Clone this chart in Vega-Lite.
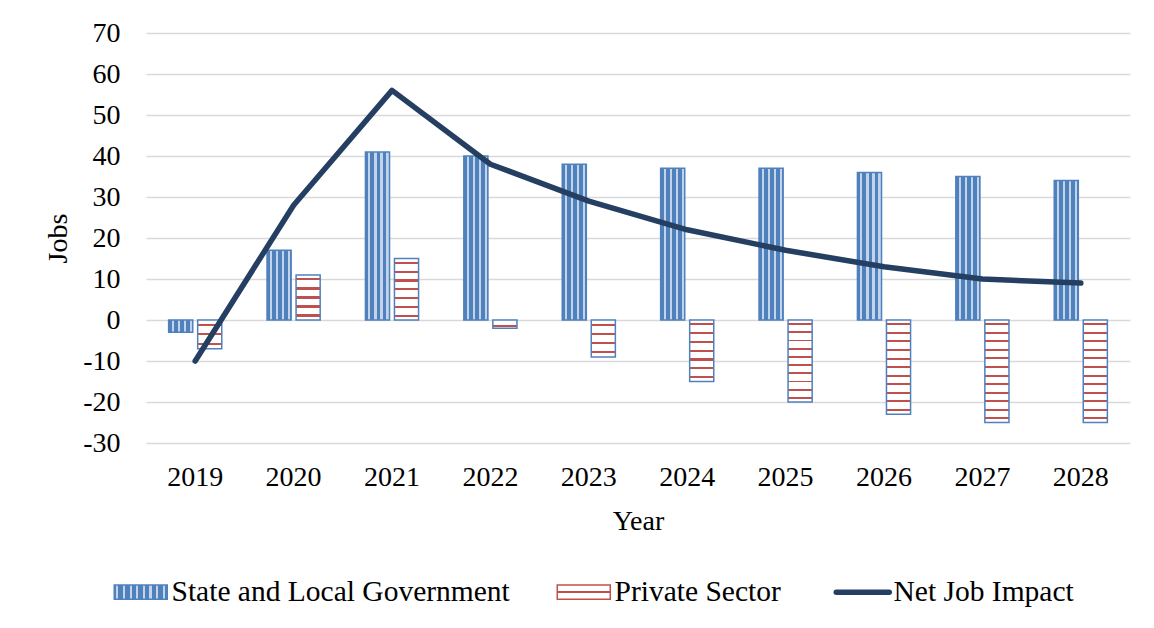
{
  "$schema": "https://vega.github.io/schema/vega-lite/v6.json",
  "width": 984,
  "height": 410,
  "autosize": "none",
  "padding": {"left": 146, "top": 33, "right": 24, "bottom": 185},
  "background": "#ffffff",
  "data": {
    "values": [
      {"Year": "2019", "Series": "State and Local Government", "Jobs": -3},
      {"Year": "2020", "Series": "State and Local Government", "Jobs": 17},
      {"Year": "2021", "Series": "State and Local Government", "Jobs": 41},
      {"Year": "2022", "Series": "State and Local Government", "Jobs": 40},
      {"Year": "2023", "Series": "State and Local Government", "Jobs": 38},
      {"Year": "2024", "Series": "State and Local Government", "Jobs": 37},
      {"Year": "2025", "Series": "State and Local Government", "Jobs": 37},
      {"Year": "2026", "Series": "State and Local Government", "Jobs": 36},
      {"Year": "2027", "Series": "State and Local Government", "Jobs": 35},
      {"Year": "2028", "Series": "State and Local Government", "Jobs": 34},
      {"Year": "2019", "Series": "Private Sector", "Jobs": -7},
      {"Year": "2020", "Series": "Private Sector", "Jobs": 11},
      {"Year": "2021", "Series": "Private Sector", "Jobs": 15},
      {"Year": "2022", "Series": "Private Sector", "Jobs": -2},
      {"Year": "2023", "Series": "Private Sector", "Jobs": -9},
      {"Year": "2024", "Series": "Private Sector", "Jobs": -15},
      {"Year": "2025", "Series": "Private Sector", "Jobs": -20},
      {"Year": "2026", "Series": "Private Sector", "Jobs": -23},
      {"Year": "2027", "Series": "Private Sector", "Jobs": -25},
      {"Year": "2028", "Series": "Private Sector", "Jobs": -25},
      {"Year": "2019", "Series": "Net Job Impact", "Jobs": -10},
      {"Year": "2020", "Series": "Net Job Impact", "Jobs": 28},
      {"Year": "2021", "Series": "Net Job Impact", "Jobs": 56},
      {"Year": "2022", "Series": "Net Job Impact", "Jobs": 38},
      {"Year": "2023", "Series": "Net Job Impact", "Jobs": 29},
      {"Year": "2024", "Series": "Net Job Impact", "Jobs": 22},
      {"Year": "2025", "Series": "Net Job Impact", "Jobs": 17},
      {"Year": "2026", "Series": "Net Job Impact", "Jobs": 13},
      {"Year": "2027", "Series": "Net Job Impact", "Jobs": 10},
      {"Year": "2028", "Series": "Net Job Impact", "Jobs": 9}
    ]
  },
  "encoding": {
    "x": {
      "field": "Year",
      "type": "ordinal",
      "title": "Year",
      "scale": {"paddingInner": 0.46, "paddingOuter": 0.23},
      "axis": {"labelAngle": 0, "labelPadding": 20, "titlePadding": 16, "grid": false}
    },
    "y": {
      "field": "Jobs",
      "type": "quantitative",
      "title": "Jobs",
      "scale": {"domain": [-30, 70], "nice": false, "zero": false},
      "axis": {
        "values": [-30, -20, -10, 0, 10, 20, 30, 40, 50, 60, 70],
        "labelExpr": "'' + datum.value",
        "grid": true,
        "gridColor": "#d9d9d9",
        "gridWidth": 1.3,
        "labelPadding": 26,
        "titlePadding": 10
      }
    }
  },
  "layer": [
    {
      "transform": [{"filter": "datum.Series !== 'Net Job Impact'"}],
      "mark": {"type": "bar", "stroke": "#4f81bd", "strokeWidth": 1.5, "orient": "vertical"},
      "encoding": {
        "xOffset": {
          "field": "Series",
          "type": "nominal",
          "sort": ["State and Local Government", "Private Sector"],
          "scale": {"paddingInner": 0.17, "paddingOuter": 0}
        },
        "fill": {
          "condition": [
            {"test": "datum.Series === 'State and Local Government'", "value": {"gradient": "linear", "x1": 0, "y1": 0, "x2": 1, "y2": 0, "stops": [
              {"offset": 0, "color": "#4f81bd"}, {"offset": 0.12, "color": "#4f81bd"}, {"offset": 0.12, "color": "#c3d4ea"}, {"offset": 0.21, "color": "#c3d4ea"}, {"offset": 0.21, "color": "#4f81bd"},
              {"offset": 0.37, "color": "#4f81bd"}, {"offset": 0.37, "color": "#c3d4ea"}, {"offset": 0.46, "color": "#c3d4ea"}, {"offset": 0.46, "color": "#4f81bd"},
              {"offset": 0.62, "color": "#4f81bd"}, {"offset": 0.62, "color": "#c3d4ea"}, {"offset": 0.71, "color": "#c3d4ea"}, {"offset": 0.71, "color": "#4f81bd"},
              {"offset": 0.87, "color": "#4f81bd"}, {"offset": 0.87, "color": "#c3d4ea"}, {"offset": 0.96, "color": "#c3d4ea"}, {"offset": 0.96, "color": "#4f81bd"}, {"offset": 1, "color": "#4f81bd"}]}},
            {"test": "abs(datum.Jobs) <= 3", "value": {"gradient": "linear", "x1": 0, "y1": 0, "x2": 0, "y2": 1, "stops": [
              {"offset": 0, "color": "#ffffff"}, {"offset": 0.62, "color": "#ffffff"}, {"offset": 0.62, "color": "#c0504d"}, {"offset": 0.86, "color": "#c0504d"}, {"offset": 0.86, "color": "#ffffff"}, {"offset": 1, "color": "#ffffff"}]}},
            {"test": "abs(datum.Jobs) <= 8", "value": {"gradient": "linear", "x1": 0, "y1": 0, "x2": 0, "y2": 1, "stops": [
              {"offset": 0, "color": "#ffffff"},
              {"offset": 0.127, "color": "#ffffff"}, {"offset": 0.127, "color": "#c0504d"}, {"offset": 0.207, "color": "#c0504d"}, {"offset": 0.207, "color": "#ffffff"},
              {"offset": 0.46, "color": "#ffffff"}, {"offset": 0.46, "color": "#c0504d"}, {"offset": 0.54, "color": "#c0504d"}, {"offset": 0.54, "color": "#ffffff"},
              {"offset": 0.793, "color": "#ffffff"}, {"offset": 0.793, "color": "#c0504d"}, {"offset": 0.873, "color": "#c0504d"}, {"offset": 0.873, "color": "#ffffff"},
              {"offset": 1, "color": "#ffffff"}]}},
            {"test": "abs(datum.Jobs) <= 10", "value": {"gradient": "linear", "x1": 0, "y1": 0, "x2": 0, "y2": 1, "stops": [
              {"offset": 0, "color": "#ffffff"},
              {"offset": 0.095, "color": "#ffffff"}, {"offset": 0.095, "color": "#c0504d"}, {"offset": 0.155, "color": "#c0504d"}, {"offset": 0.155, "color": "#ffffff"},
              {"offset": 0.345, "color": "#ffffff"}, {"offset": 0.345, "color": "#c0504d"}, {"offset": 0.405, "color": "#c0504d"}, {"offset": 0.405, "color": "#ffffff"},
              {"offset": 0.595, "color": "#ffffff"}, {"offset": 0.595, "color": "#c0504d"}, {"offset": 0.655, "color": "#c0504d"}, {"offset": 0.655, "color": "#ffffff"},
              {"offset": 0.845, "color": "#ffffff"}, {"offset": 0.845, "color": "#c0504d"}, {"offset": 0.905, "color": "#c0504d"}, {"offset": 0.905, "color": "#ffffff"},
              {"offset": 1, "color": "#ffffff"}]}},
            {"test": "abs(datum.Jobs) <= 12", "value": {"gradient": "linear", "x1": 0, "y1": 0, "x2": 0, "y2": 1, "stops": [
              {"offset": 0, "color": "#ffffff"},
              {"offset": 0.076, "color": "#ffffff"}, {"offset": 0.076, "color": "#c0504d"}, {"offset": 0.124, "color": "#c0504d"}, {"offset": 0.124, "color": "#ffffff"},
              {"offset": 0.276, "color": "#ffffff"}, {"offset": 0.276, "color": "#c0504d"}, {"offset": 0.324, "color": "#c0504d"}, {"offset": 0.324, "color": "#ffffff"},
              {"offset": 0.476, "color": "#ffffff"}, {"offset": 0.476, "color": "#c0504d"}, {"offset": 0.524, "color": "#c0504d"}, {"offset": 0.524, "color": "#ffffff"},
              {"offset": 0.676, "color": "#ffffff"}, {"offset": 0.676, "color": "#c0504d"}, {"offset": 0.724, "color": "#c0504d"}, {"offset": 0.724, "color": "#ffffff"},
              {"offset": 0.876, "color": "#ffffff"}, {"offset": 0.876, "color": "#c0504d"}, {"offset": 0.924, "color": "#c0504d"}, {"offset": 0.924, "color": "#ffffff"},
              {"offset": 1, "color": "#ffffff"}]}},
            {"test": "abs(datum.Jobs) <= 17", "value": {"gradient": "linear", "x1": 0, "y1": 0, "x2": 0, "y2": 1, "stops": [
              {"offset": 0, "color": "#ffffff"},
              {"offset": 0.054, "color": "#ffffff"}, {"offset": 0.054, "color": "#c0504d"}, {"offset": 0.089, "color": "#c0504d"}, {"offset": 0.089, "color": "#ffffff"},
              {"offset": 0.197, "color": "#ffffff"}, {"offset": 0.197, "color": "#c0504d"}, {"offset": 0.231, "color": "#c0504d"}, {"offset": 0.231, "color": "#ffffff"},
              {"offset": 0.340, "color": "#ffffff"}, {"offset": 0.340, "color": "#c0504d"}, {"offset": 0.374, "color": "#c0504d"}, {"offset": 0.374, "color": "#ffffff"},
              {"offset": 0.483, "color": "#ffffff"}, {"offset": 0.483, "color": "#c0504d"}, {"offset": 0.517, "color": "#c0504d"}, {"offset": 0.517, "color": "#ffffff"},
              {"offset": 0.626, "color": "#ffffff"}, {"offset": 0.626, "color": "#c0504d"}, {"offset": 0.660, "color": "#c0504d"}, {"offset": 0.660, "color": "#ffffff"},
              {"offset": 0.769, "color": "#ffffff"}, {"offset": 0.769, "color": "#c0504d"}, {"offset": 0.803, "color": "#c0504d"}, {"offset": 0.803, "color": "#ffffff"},
              {"offset": 0.912, "color": "#ffffff"}, {"offset": 0.912, "color": "#c0504d"}, {"offset": 0.946, "color": "#c0504d"}, {"offset": 0.946, "color": "#ffffff"},
              {"offset": 1, "color": "#ffffff"}]}},
            {"test": "abs(datum.Jobs) <= 21", "value": {"gradient": "linear", "x1": 0, "y1": 0, "x2": 0, "y2": 1, "stops": [
              {"offset": 0, "color": "#ffffff"},
              {"offset": 0.038, "color": "#ffffff"}, {"offset": 0.038, "color": "#c0504d"}, {"offset": 0.062, "color": "#c0504d"}, {"offset": 0.062, "color": "#ffffff"},
              {"offset": 0.138, "color": "#ffffff"}, {"offset": 0.138, "color": "#c0504d"}, {"offset": 0.162, "color": "#c0504d"}, {"offset": 0.162, "color": "#ffffff"},
              {"offset": 0.238, "color": "#ffffff"}, {"offset": 0.238, "color": "#c0504d"}, {"offset": 0.262, "color": "#c0504d"}, {"offset": 0.262, "color": "#ffffff"},
              {"offset": 0.338, "color": "#ffffff"}, {"offset": 0.338, "color": "#c0504d"}, {"offset": 0.362, "color": "#c0504d"}, {"offset": 0.362, "color": "#ffffff"},
              {"offset": 0.438, "color": "#ffffff"}, {"offset": 0.438, "color": "#c0504d"}, {"offset": 0.462, "color": "#c0504d"}, {"offset": 0.462, "color": "#ffffff"},
              {"offset": 0.538, "color": "#ffffff"}, {"offset": 0.538, "color": "#c0504d"}, {"offset": 0.562, "color": "#c0504d"}, {"offset": 0.562, "color": "#ffffff"},
              {"offset": 0.638, "color": "#ffffff"}, {"offset": 0.638, "color": "#c0504d"}, {"offset": 0.662, "color": "#c0504d"}, {"offset": 0.662, "color": "#ffffff"},
              {"offset": 0.738, "color": "#ffffff"}, {"offset": 0.738, "color": "#c0504d"}, {"offset": 0.762, "color": "#c0504d"}, {"offset": 0.762, "color": "#ffffff"},
              {"offset": 0.838, "color": "#ffffff"}, {"offset": 0.838, "color": "#c0504d"}, {"offset": 0.862, "color": "#c0504d"}, {"offset": 0.862, "color": "#ffffff"},
              {"offset": 0.938, "color": "#ffffff"}, {"offset": 0.938, "color": "#c0504d"}, {"offset": 0.962, "color": "#c0504d"}, {"offset": 0.962, "color": "#ffffff"},
              {"offset": 1, "color": "#ffffff"}]}},
            {"test": "abs(datum.Jobs) <= 24", "value": {"gradient": "linear", "x1": 0, "y1": 0, "x2": 0, "y2": 1, "stops": [
              {"offset": 0, "color": "#ffffff"},
              {"offset": 0.035, "color": "#ffffff"}, {"offset": 0.035, "color": "#c0504d"}, {"offset": 0.056, "color": "#c0504d"}, {"offset": 0.056, "color": "#ffffff"},
              {"offset": 0.126, "color": "#ffffff"}, {"offset": 0.126, "color": "#c0504d"}, {"offset": 0.147, "color": "#c0504d"}, {"offset": 0.147, "color": "#ffffff"},
              {"offset": 0.216, "color": "#ffffff"}, {"offset": 0.216, "color": "#c0504d"}, {"offset": 0.238, "color": "#c0504d"}, {"offset": 0.238, "color": "#ffffff"},
              {"offset": 0.307, "color": "#ffffff"}, {"offset": 0.307, "color": "#c0504d"}, {"offset": 0.329, "color": "#c0504d"}, {"offset": 0.329, "color": "#ffffff"},
              {"offset": 0.398, "color": "#ffffff"}, {"offset": 0.398, "color": "#c0504d"}, {"offset": 0.420, "color": "#c0504d"}, {"offset": 0.420, "color": "#ffffff"},
              {"offset": 0.489, "color": "#ffffff"}, {"offset": 0.489, "color": "#c0504d"}, {"offset": 0.511, "color": "#c0504d"}, {"offset": 0.511, "color": "#ffffff"},
              {"offset": 0.580, "color": "#ffffff"}, {"offset": 0.580, "color": "#c0504d"}, {"offset": 0.602, "color": "#c0504d"}, {"offset": 0.602, "color": "#ffffff"},
              {"offset": 0.671, "color": "#ffffff"}, {"offset": 0.671, "color": "#c0504d"}, {"offset": 0.693, "color": "#c0504d"}, {"offset": 0.693, "color": "#ffffff"},
              {"offset": 0.762, "color": "#ffffff"}, {"offset": 0.762, "color": "#c0504d"}, {"offset": 0.784, "color": "#c0504d"}, {"offset": 0.784, "color": "#ffffff"},
              {"offset": 0.853, "color": "#ffffff"}, {"offset": 0.853, "color": "#c0504d"}, {"offset": 0.874, "color": "#c0504d"}, {"offset": 0.874, "color": "#ffffff"},
              {"offset": 0.944, "color": "#ffffff"}, {"offset": 0.944, "color": "#c0504d"}, {"offset": 0.966, "color": "#c0504d"}, {"offset": 0.966, "color": "#ffffff"},
              {"offset": 1, "color": "#ffffff"}]}}
          ],
          "value": {"gradient": "linear", "x1": 0, "y1": 0, "x2": 0, "y2": 1, "stops": [
            {"offset": 0, "color": "#ffffff"},
            {"offset": 0.032, "color": "#ffffff"}, {"offset": 0.032, "color": "#c0504d"}, {"offset": 0.052, "color": "#c0504d"}, {"offset": 0.052, "color": "#ffffff"},
            {"offset": 0.115, "color": "#ffffff"}, {"offset": 0.115, "color": "#c0504d"}, {"offset": 0.135, "color": "#c0504d"}, {"offset": 0.135, "color": "#ffffff"},
            {"offset": 0.198, "color": "#ffffff"}, {"offset": 0.198, "color": "#c0504d"}, {"offset": 0.218, "color": "#c0504d"}, {"offset": 0.218, "color": "#ffffff"},
            {"offset": 0.282, "color": "#ffffff"}, {"offset": 0.282, "color": "#c0504d"}, {"offset": 0.302, "color": "#c0504d"}, {"offset": 0.302, "color": "#ffffff"},
            {"offset": 0.365, "color": "#ffffff"}, {"offset": 0.365, "color": "#c0504d"}, {"offset": 0.385, "color": "#c0504d"}, {"offset": 0.385, "color": "#ffffff"},
            {"offset": 0.448, "color": "#ffffff"}, {"offset": 0.448, "color": "#c0504d"}, {"offset": 0.468, "color": "#c0504d"}, {"offset": 0.468, "color": "#ffffff"},
            {"offset": 0.532, "color": "#ffffff"}, {"offset": 0.532, "color": "#c0504d"}, {"offset": 0.552, "color": "#c0504d"}, {"offset": 0.552, "color": "#ffffff"},
            {"offset": 0.615, "color": "#ffffff"}, {"offset": 0.615, "color": "#c0504d"}, {"offset": 0.635, "color": "#c0504d"}, {"offset": 0.635, "color": "#ffffff"},
            {"offset": 0.698, "color": "#ffffff"}, {"offset": 0.698, "color": "#c0504d"}, {"offset": 0.718, "color": "#c0504d"}, {"offset": 0.718, "color": "#ffffff"},
            {"offset": 0.782, "color": "#ffffff"}, {"offset": 0.782, "color": "#c0504d"}, {"offset": 0.802, "color": "#c0504d"}, {"offset": 0.802, "color": "#ffffff"},
            {"offset": 0.865, "color": "#ffffff"}, {"offset": 0.865, "color": "#c0504d"}, {"offset": 0.885, "color": "#c0504d"}, {"offset": 0.885, "color": "#ffffff"},
            {"offset": 0.948, "color": "#ffffff"}, {"offset": 0.948, "color": "#c0504d"}, {"offset": 0.968, "color": "#c0504d"}, {"offset": 0.968, "color": "#ffffff"},
            {"offset": 1, "color": "#ffffff"}]}
        }
      }
    },
    {
      "transform": [{"filter": "datum.Series === 'Net Job Impact'"}],
      "mark": {"type": "line", "strokeWidth": 5.5, "strokeJoin": "round", "strokeCap": "round"},
      "encoding": {
        "color": {
          "field": "Series",
          "type": "nominal",
          "scale": {
            "domain": ["State and Local Government", "Private Sector", "Net Job Impact"],
            "range": ["#4f81bd", "#c0504d", "#253f62"]
          },
          "legend": {
            "title": null,
            "orient": "none",
            "legendX": -20,
            "legendY": 544,
            "direction": "horizontal",
            "columns": 3,
            "padding": 0,
            "symbolSize": 2809,
            "labelFont": "Liberation Serif",
            "labelFontSize": 29.5,
            "labelColor": "#000000",
            "labelLimit": 0,
            "labelOffset": 16,
            "columnPadding": 44,
            "encode": {
              "symbols": {
                "update": {
                  "shape": {"signal": "datum.value === 'Net Job Impact' ? 'stroke' : 'M-1,-0.27H1V0.27H-1Z'"},
                  "fill": {"signal": "datum.value === 'State and Local Government' ? {gradient: 'linear', x1: 0, y1: 0, x2: 1, y2: 0, stops: [{offset: 0, color: '#4f81bd'}, {offset: 0.04, color: '#4f81bd'}, {offset: 0.04, color: '#c3d4ea'}, {offset: 0.08, color: '#c3d4ea'}, {offset: 0.08, color: '#4f81bd'}, {offset: 0.165, color: '#4f81bd'}, {offset: 0.165, color: '#c3d4ea'}, {offset: 0.205, color: '#c3d4ea'}, {offset: 0.205, color: '#4f81bd'}, {offset: 0.29, color: '#4f81bd'}, {offset: 0.29, color: '#c3d4ea'}, {offset: 0.33, color: '#c3d4ea'}, {offset: 0.33, color: '#4f81bd'}, {offset: 0.415, color: '#4f81bd'}, {offset: 0.415, color: '#c3d4ea'}, {offset: 0.455, color: '#c3d4ea'}, {offset: 0.455, color: '#4f81bd'}, {offset: 0.54, color: '#4f81bd'}, {offset: 0.54, color: '#c3d4ea'}, {offset: 0.58, color: '#c3d4ea'}, {offset: 0.58, color: '#4f81bd'}, {offset: 0.665, color: '#4f81bd'}, {offset: 0.665, color: '#c3d4ea'}, {offset: 0.705, color: '#c3d4ea'}, {offset: 0.705, color: '#4f81bd'}, {offset: 0.79, color: '#4f81bd'}, {offset: 0.79, color: '#c3d4ea'}, {offset: 0.83, color: '#c3d4ea'}, {offset: 0.83, color: '#4f81bd'}, {offset: 0.915, color: '#4f81bd'}, {offset: 0.915, color: '#c3d4ea'}, {offset: 0.955, color: '#c3d4ea'}, {offset: 0.955, color: '#4f81bd'}, {offset: 1, color: '#4f81bd'}]} : datum.value === 'Private Sector' ? {gradient: 'linear', x1: 0, y1: 0, x2: 0, y2: 1, stops: [{offset: 0, color: '#ffffff'}, {offset: 0.42, color: '#ffffff'}, {offset: 0.42, color: '#c0504d'}, {offset: 0.58, color: '#c0504d'}, {offset: 0.58, color: '#ffffff'}, {offset: 1, color: '#ffffff'}]} : 'transparent'"},
                  "stroke": {"signal": "datum.value === 'Net Job Impact' ? '#253f62' : '#4f81bd'"},
                  "strokeWidth": {"signal": "datum.value === 'Net Job Impact' ? 5.5 : 1.5"},
                  "strokeCap": {"value": "round"},
                  "opacity": {"value": 1}
                }
              }
            }
          }
        }
      }
    }
  ],
  "config": {
    "view": {"stroke": null},
    "axis": {
      "labelFont": "Liberation Serif",
      "labelFontSize": 28,
      "labelColor": "#000000",
      "titleFont": "Liberation Serif",
      "titleFontSize": 28,
      "titleFontWeight": "normal",
      "titleColor": "#000000",
      "domain": false,
      "ticks": false,
      "tickSize": 0
    }
  }
}
